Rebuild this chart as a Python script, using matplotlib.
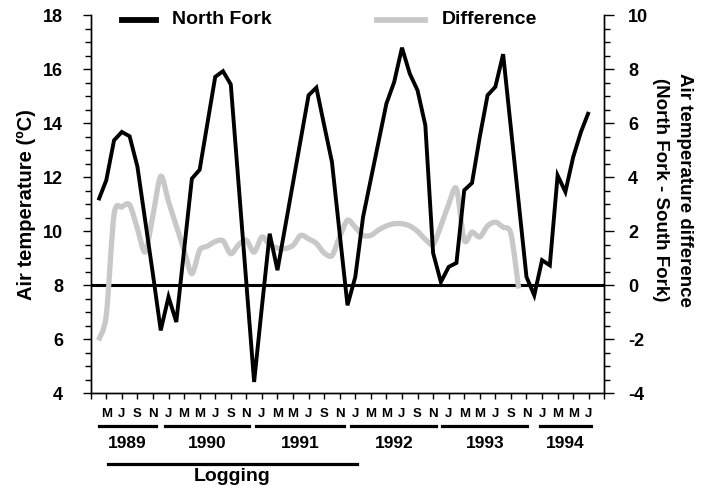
import numpy as np
import matplotlib
matplotlib.use("Agg")
import matplotlib.pyplot as plt
import matplotlib.transforms as mtransforms
from matplotlib.lines import Line2D
from matplotlib.path import Path
from matplotlib.patches import PathPatch
from matplotlib.ticker import MultipleLocator

plt.rcParams['font.family'] = ['Liberation Sans', 'DejaVu Sans']
plt.rcParams['font.weight'] = 'bold'
plt.rcParams['axes.unicode_minus'] = False

# North Fork monthly air temperature (deg C), Apr 1989 - Jul 1994
north_fork = [11.15, 11.89, 13.37, 13.68, 13.52, 12.40, 10.4, 8.4, 6.33,
              7.57, 6.64, 9.3, 11.95, 12.28, 14.0, 15.72, 15.93, 15.44,
              11.77, 8.09, 4.42, 7.2, 9.91, 8.56, 10.18, 11.8, 13.42, 15.04,
              15.32, 13.93, 12.57, 9.9, 7.26, 8.31, 10.53, 11.93, 13.33,
              14.73, 15.53, 16.80, 15.84, 15.22, 13.93, 9.2, 8.12, 8.68,
              8.83, 11.52, 11.79, 13.5, 15.04, 15.35, 16.56, 13.81, 11.06,
              8.31, 7.63, 8.93, 8.74, 12.07, 11.46, 12.75, 13.68, 14.42]

# North Fork - South Fork difference (deg C), Apr 1989 - Oct 1993
difference = [-2.04, -1.11, 2.62, 2.9, 2.98, 2.1, 1.23, 2.6, 4.04, 3.1,
              2.2, 1.3, 0.43, 1.3, 1.45, 1.62, 1.65, 1.17, 1.5, 1.67,
              1.23, 1.79, 1.5, 1.38, 1.36, 1.48, 1.85, 1.72, 1.55, 1.2,
              1.1, 1.8, 2.41, 2.15, 1.85, 1.85, 2.05, 2.2, 2.28, 2.28,
              2.2, 2.0, 1.7, 1.52, 2.2, 3.0, 3.58, 1.67, 1.97, 1.79,
              2.2, 2.34, 2.15, 1.91, -0.12]

# month axis: 0 = Mar 1989, ticks every two months
month_labels = ["", "M", "J", "S", "N",
                "J", "M", "M", "J", "S", "N",
                "J", "M", "M", "J", "S", "N",
                "J", "M", "M", "J", "S", "N",
                "J", "M", "M", "J", "S", "N",
                "J", "M", "M", "J", ""]
years = ["1989", "1990", "1991", "1992", "1993", "1994"]
year_spans = [(1.1, 8.4), (9.5, 20.4), (21.2, 32.6),
              (33.5, 44.4), (45.2, 56.1), (57.7, 64.3)]
logging_span = (2.2, 34.2)

W, H = 709, 486


def smooth_path(xs, ys):
    # spreadsheet-style smoothed line: cubic bezier through every point
    pts = np.column_stack([xs, ys]).astype(float)
    n = len(pts)
    verts = [pts[0]]
    codes = [Path.MOVETO]
    for i in range(n - 1):
        p_prev = pts[i - 1] if i > 0 else pts[i]
        p_next2 = pts[i + 2] if i + 2 < n else pts[i + 1]
        c1 = pts[i] + (pts[i + 1] - p_prev) / 7
        c2 = pts[i + 1] - (p_next2 - pts[i]) / 7
        verts += [c1, c2, pts[i + 1]]
        codes += [Path.CURVE4] * 3
    return Path(verts, codes)


fig = plt.figure(figsize=(W / 100, H / 100), dpi=100)
ax = fig.add_axes([90.7 / W, 1 - 393.3 / H, 513.6 / W, 378 / H])
ax2 = ax.twinx()

x_nf = np.arange(1, len(north_fork) + 1)
x_diff = np.arange(1, len(difference) + 1)

ax2.axhline(0, color="black", lw=2.2, zorder=1)
ax2.add_patch(PathPatch(smooth_path(x_diff, difference), facecolor="none",
                        edgecolor="#c8c8c8", lw=3.8, zorder=2,
                        joinstyle="round", capstyle="butt"))
ax.plot(x_nf, north_fork, color="black", lw=2.8, zorder=3,
        solid_joinstyle="miter", solid_capstyle="butt")

ax.set_zorder(ax2.get_zorder() + 1)
ax.patch.set_visible(False)

ax.set_xlim(0, 66)
ax.set_ylim(4, 18)
ax2.set_ylim(-4, 10)

ax.set_xticks(np.arange(0, 67, 2))
ax.set_xticklabels(month_labels, fontsize=9.5, fontweight="bold")
ax.yaxis.set_major_locator(MultipleLocator(2))
ax.yaxis.set_minor_locator(MultipleLocator(0.5))
ax2.yaxis.set_major_locator(MultipleLocator(2))
ax2.yaxis.set_minor_locator(MultipleLocator(0.5))

for a in (ax, ax2):
    a.spines["top"].set_visible(False)
    for s in a.spines.values():
        s.set_linewidth(1.0)

ax.tick_params(axis="x", direction="out", length=4.5, width=1, pad=6)
ax.tick_params(axis="y", which="major", direction="out", length=6,
               width=1, labelsize=13, pad=14)
ax.tick_params(axis="y", which="minor", direction="out", length=4, width=1)
ax2.tick_params(axis="y", which="major", direction="out", length=7,
                width=1, labelsize=13, pad=10)
ax2.tick_params(axis="y", which="minor", direction="out", length=4.5, width=1)

ax.set_ylabel("Air temperature (ºC)", fontsize=14.5, fontweight="bold",
              labelpad=5)


def fx(px):
    return px / W


def fy(py):
    return 1 - py / H


# right axis title, two lines
fig.text(fx(684), fy(190), "Air temperature difference", rotation=270,
         ha="center", va="center", fontsize=13.5, fontweight="bold")
fig.text(fx(661), fy(190), "(North Fork - South Fork)", rotation=270,
         ha="center", va="center", fontsize=13.5, fontweight="bold")

# legend along the top
fig.add_artist(Line2D([fx(122), fx(156)], [fy(20), fy(20)], color="black", lw=4.2))
fig.text(fx(172), fy(19), "North Fork", ha="left", va="center",
         fontsize=14, fontweight="bold")
fig.add_artist(Line2D([fx(377), fx(425)], [fy(20), fy(20)], color="#c8c8c8", lw=4.2))
fig.text(fx(442), fy(19), "Difference", ha="left", va="center",
         fontsize=14, fontweight="bold")

# year brackets and logging period under the axis
trans = mtransforms.blended_transform_factory(ax.transData, fig.transFigure)
for yr, (x0, x1) in zip(years, year_spans):
    fig.add_artist(Line2D([x0, x1], [fy(425.5), fy(425.5)], color="black",
                          lw=2.3, transform=trans))
    fig.text((x0 + x1) / 2, fy(443), yr, transform=trans, ha="center",
             va="center", fontsize=12.5, fontweight="bold")

fig.add_artist(Line2D(list(logging_span), [fy(464), fy(464)], color="black",
                      lw=2.3, transform=trans))
fig.text(sum(logging_span) / 2, fy(476), "Logging", transform=trans,
         ha="center", va="center", fontsize=14, fontweight="bold")

fig.savefig("out.png", dpi=100)
